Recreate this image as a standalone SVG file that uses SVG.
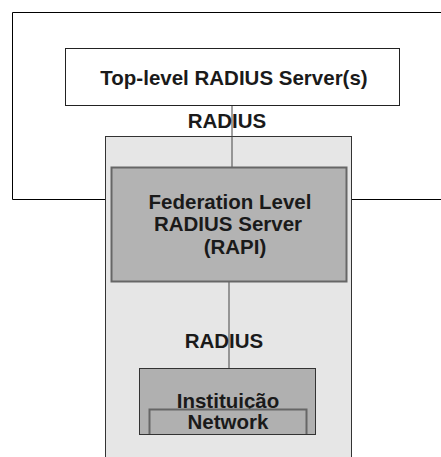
<svg xmlns="http://www.w3.org/2000/svg" width="441" height="457" viewBox="0 0 441 457">
<style>
text{font-family:"Liberation Sans",Arial,sans-serif;font-weight:bold;font-size:20.5px;fill:#1a1a1a;text-anchor:middle}
.ln{stroke:#444;stroke-width:1;fill:none}
</style>
<rect width="441" height="457" fill="#fff"/>
<g id="frame"><path d="M441,12.5 H12.5 V199.5 H441" fill="none" stroke="#000" stroke-width="1"/></g>
<g id="container"><rect x="105.5" y="136.5" width="246" height="330" fill="#e6e6e6" stroke="#333" stroke-width="1"/></g>
<g id="connectors">
<line class="ln" x1="232" y1="105" x2="232" y2="167"/>
<line class="ln" x1="229" y1="282" x2="229" y2="368"/>
</g>
<g id="top"><rect x="65.5" y="48.5" width="334" height="57" fill="#fff" stroke="#222" stroke-width="1"/>
<text x="234" y="85">Top-level RADIUS Server(s)</text></g>
<text x="227" y="128">RADIUS</text>
<g id="federation"><rect x="111.5" y="167.5" width="235" height="114" fill="#b3b3b3" stroke="#666" stroke-width="2"/>
<text x="230" y="209">Federation Level</text>
<text x="228" y="231">RADIUS Server</text>
<text x="235" y="254">(RAPI)</text></g>
<text x="224" y="348">RADIUS</text>
<g id="institution"><rect x="139.5" y="368.5" width="176" height="66" fill="#b0b0b0" stroke="#333" stroke-width="1"/>
<text x="228" y="408">Instituição</text>
<path d="M149.5,434 V409.5 H306.5 V434" fill="#b0b0b0" stroke="#666" stroke-width="2"/>
<line x1="139.5" y1="434.5" x2="315.5" y2="434.5" stroke="#333" stroke-width="1"/>
<text x="228" y="429">Network</text></g>
</svg>
